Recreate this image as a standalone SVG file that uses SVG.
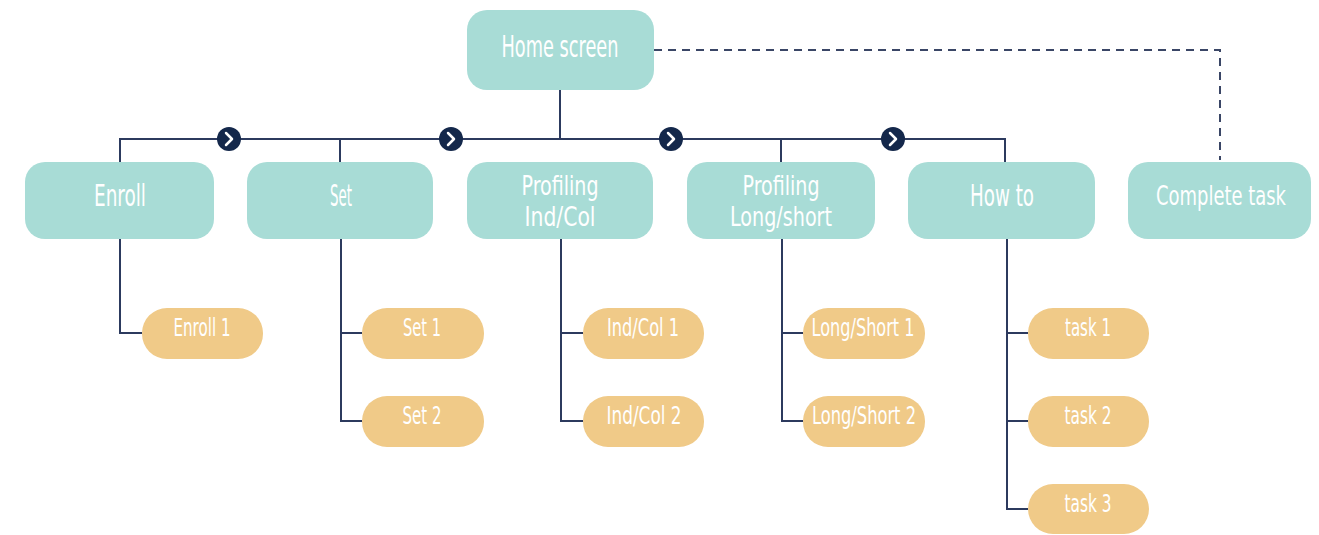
<svg xmlns="http://www.w3.org/2000/svg" width="1319" height="535" viewBox="0 0 1319 535">
<style>
.main{fill:#a8dcd6}
.sub{fill:#f0ca88}
.t{font-family:"DejaVu Sans Condensed","Liberation Sans",sans-serif;fill:#ffffff;text-anchor:middle}
.tm{font-size:30px}
.t2{font-size:27px}
.ts{font-size:24px}
.ln{fill:none;stroke:#2c3a5e;stroke-width:2}
.dash{fill:none;stroke:#3a4666;stroke-width:2;stroke-dasharray:8 6}
.chev{fill:#14284b}
.chevp{fill:none;stroke:#ffffff;stroke-width:2.5;stroke-linecap:round;stroke-linejoin:round}
</style>
<rect width="1319" height="535" fill="#ffffff"/>
<g id="connectors">
<path class="dash" d="M654 50 H1220 V160"/>
<path class="ln" d="M560 90 V139"/>
<path class="ln" d="M120 162 V139 H1005 V162"/>
<path class="ln" d="M340 139 V162 M781 139 V162"/>
<path class="ln" d="M120 239 V333 H142"/>
<path class="ln" d="M341 239 V421 H362 M341 333 H362"/>
<path class="ln" d="M561 239 V421 H583 M561 333 H583"/>
<path class="ln" d="M782 239 V421 H803 M782 333 H803"/>
<path class="ln" d="M1007 239 V509 H1028 M1007 333 H1028 M1007 421 H1028"/>
<g id="chevrons">
<circle class="chev" cx="229" cy="139" r="12"/><path class="chevp" d="M226 133 L232 139 L226 145"/>
<circle class="chev" cx="451" cy="139" r="12"/><path class="chevp" d="M448 133 L454 139 L448 145"/>
<circle class="chev" cx="671" cy="139" r="12"/><path class="chevp" d="M668 133 L674 139 L668 145"/>
<circle class="chev" cx="893" cy="139" r="12"/><path class="chevp" d="M890 133 L896 139 L890 145"/>
</g>
</g>
<g id="home"><rect class="main" x="467" y="10" width="187" height="80" rx="20"/><text class="t tm" x="560" y="57" textLength="117" lengthAdjust="spacingAndGlyphs">Home screen</text></g>
<g id="enroll"><rect class="main" x="25" y="162" width="189" height="77" rx="20"/><text class="t tm" x="120" y="206" textLength="52" lengthAdjust="spacingAndGlyphs">Enroll</text></g>
<g id="set"><rect class="main" x="247" y="162" width="186" height="77" rx="20"/><text class="t tm" x="341" y="206" textLength="22" lengthAdjust="spacingAndGlyphs">Set</text></g>
<g id="profiling-indcol"><rect class="main" x="467" y="162" width="186" height="77" rx="20"/><text class="t t2" x="560" y="195" textLength="77" lengthAdjust="spacingAndGlyphs">Profiling</text><text class="t t2" x="560" y="226" textLength="71" lengthAdjust="spacingAndGlyphs">Ind/Col</text></g>
<g id="profiling-longshort"><rect class="main" x="687" y="162" width="188" height="77" rx="20"/><text class="t t2" x="781" y="195" textLength="77" lengthAdjust="spacingAndGlyphs">Profiling</text><text class="t t2" x="781" y="226" textLength="102" lengthAdjust="spacingAndGlyphs">Long/short</text></g>
<g id="howto"><rect class="main" x="908" y="162" width="187" height="77" rx="20"/><text class="t tm" x="1002" y="206" textLength="64" lengthAdjust="spacingAndGlyphs">How to</text></g>
<g id="complete"><rect class="main" x="1128" y="162" width="183" height="77" rx="20"/><text class="t t2" x="1221" y="205" textLength="130" lengthAdjust="spacingAndGlyphs">Complete task</text></g>
<g id="enroll1"><rect class="sub" x="142" y="308" width="121" height="51" rx="25"/><text class="t ts" x="202" y="336" textLength="57" lengthAdjust="spacingAndGlyphs">Enroll 1</text></g>
<g id="set1"><rect class="sub" x="362" y="308" width="122" height="51" rx="25"/><text class="t ts" x="422" y="336" textLength="38" lengthAdjust="spacingAndGlyphs">Set 1</text></g>
<g id="set2"><rect class="sub" x="362" y="396" width="122" height="51" rx="25"/><text class="t ts" x="422" y="424" textLength="39" lengthAdjust="spacingAndGlyphs">Set 2</text></g>
<g id="indcol1"><rect class="sub" x="583" y="308" width="121" height="51" rx="25"/><text class="t ts" x="643" y="336" textLength="72" lengthAdjust="spacingAndGlyphs">Ind/Col 1</text></g>
<g id="indcol2"><rect class="sub" x="583" y="396" width="121" height="51" rx="25"/><text class="t ts" x="644" y="424" textLength="75" lengthAdjust="spacingAndGlyphs">Ind/Col 2</text></g>
<g id="longshort1"><rect class="sub" x="803" y="308" width="122" height="51" rx="25"/><text class="t ts" x="863" y="336" textLength="103" lengthAdjust="spacingAndGlyphs">Long/Short 1</text></g>
<g id="longshort2"><rect class="sub" x="803" y="396" width="122" height="51" rx="25"/><text class="t ts" x="864" y="424" textLength="104" lengthAdjust="spacingAndGlyphs">Long/Short 2</text></g>
<g id="task1"><rect class="sub" x="1028" y="308" width="121" height="51" rx="25"/><text class="t ts" x="1088" y="336" textLength="46" lengthAdjust="spacingAndGlyphs">task 1</text></g>
<g id="task2"><rect class="sub" x="1028" y="396" width="121" height="51" rx="25"/><text class="t ts" x="1088" y="424" textLength="47" lengthAdjust="spacingAndGlyphs">task 2</text></g>
<g id="task3"><rect class="sub" x="1028" y="484" width="121" height="50" rx="25"/><text class="t ts" x="1088" y="512" textLength="47" lengthAdjust="spacingAndGlyphs">task 3</text></g>
</svg>
